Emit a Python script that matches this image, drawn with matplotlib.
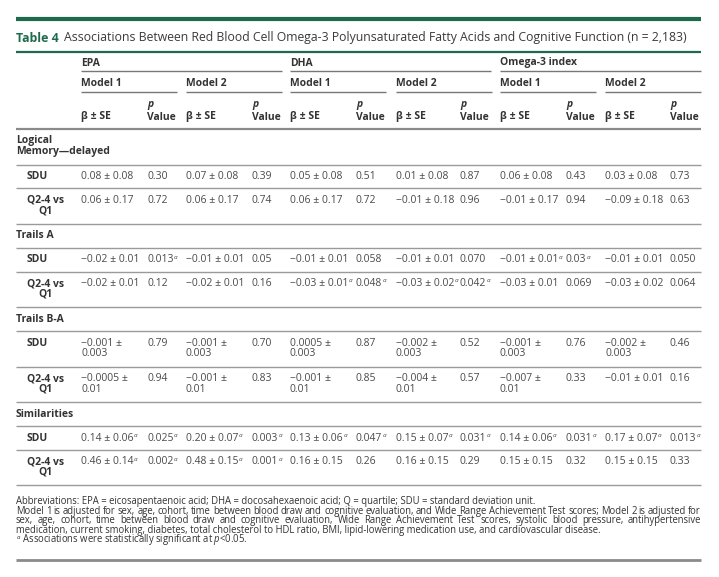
import matplotlib
matplotlib.use('Agg')
import matplotlib.pyplot as plt

plt.rcParams['font.family'] = ['Open Sans', 'DejaVu Sans']
plt.rcParams['mathtext.fontset'] = 'custom'
plt.rcParams['mathtext.rm'] = 'Open Sans'
plt.rcParams['mathtext.it'] = 'Open Sans:italic'
plt.rcParams['mathtext.bf'] = 'Open Sans:bold'

# ---------------------------------------------------------------- data
title_num = 'Table 4'
title_text = ('Associations Between Red Blood Cell Omega-3 Polyunsaturated '
              'Fatty Acids and Cognitive Function (n = 2,183)')
groups = ['EPA', 'DHA', 'Omega-3 index']
models = ['Model 1', 'Model 2']
sections = ['Logical\nMemory\u2014delayed', 'Trails A', 'Trails B-A', 'Similarities']
row_labels = ['SDU', 'Q2-4 vs\nQ1']

# one list per column, 8 rows each (SDU, Q2-4 for each section); * = significant
epa_m1_beta = ['0.08 ± 0.08', '0.06 ± 0.17', '−0.02 ± 0.01', '−0.02 ± 0.01',
               '−0.001 ±\n0.003', '−0.0005 ±\n0.01', '0.14 ± 0.06*', '0.46 ± 0.14*']
epa_m1_p = ['0.30', '0.72', '0.013*', '0.12', '0.79', '0.94', '0.025*', '0.002*']
epa_m2_beta = ['0.07 ± 0.08', '0.06 ± 0.17', '−0.01 ± 0.01', '−0.02 ± 0.01',
               '−0.001 ±\n0.003', '−0.001 ±\n0.01', '0.20 ± 0.07*', '0.48 ± 0.15*']
epa_m2_p = ['0.39', '0.74', '0.05', '0.16', '0.70', '0.83', '0.003*', '0.001*']
dha_m1_beta = ['0.05 ± 0.08', '0.06 ± 0.17', '−0.01 ± 0.01', '−0.03 ± 0.01*',
               '0.0005 ±\n0.003', '−0.001 ±\n0.01', '0.13 ± 0.06*', '0.16 ± 0.15']
dha_m1_p = ['0.51', '0.72', '0.058', '0.048*', '0.87', '0.85', '0.047*', '0.26']
dha_m2_beta = ['0.01 ± 0.08', '−0.01 ± 0.18', '−0.01 ± 0.01', '−0.03 ± 0.02*',
               '−0.002 ±\n0.003', '−0.004 ±\n0.01', '0.15 ± 0.07*', '0.16 ± 0.15']
dha_m2_p = ['0.87', '0.96', '0.070', '0.042*', '0.52', '0.57', '0.031*', '0.29']
o3_m1_beta = ['0.06 ± 0.08', '−0.01 ± 0.17', '−0.01 ± 0.01*', '−0.03 ± 0.01',
              '−0.001 ±\n0.003', '−0.007 ±\n0.01', '0.14 ± 0.06*', '0.15 ± 0.15']
o3_m1_p = ['0.43', '0.94', '0.03*', '0.069', '0.76', '0.33', '0.031*', '0.32']
o3_m2_beta = ['0.03 ± 0.08', '−0.09 ± 0.18', '−0.01 ± 0.01', '−0.03 ± 0.02',
              '−0.002 ±\n0.003', '−0.01 ± 0.01', '0.17 ± 0.07*', '0.15 ± 0.15']
o3_m2_p = ['0.73', '0.63', '0.050', '0.064', '0.46', '0.16', '0.013*', '0.33']

columns = [epa_m1_beta, epa_m1_p, epa_m2_beta, epa_m2_p,
           dha_m1_beta, dha_m1_p, dha_m2_beta, dha_m2_p,
           o3_m1_beta, o3_m1_p, o3_m2_beta, o3_m2_p]

notes = [
    'Abbreviations: EPA = eicosapentaenoic acid; DHA = docosahexaenoic acid; '
    'Q = quartile; SDU = standard deviation unit.',
    'Model 1 is adjusted for sex, age, cohort, time between blood draw and cognitive '
    'evaluation, and Wide Range Achievement Test scores; Model 2 is adjusted for',
    'sex, age, cohort, time between blood draw and cognitive evaluation, Wide Range '
    'Achievement Test scores, systolic blood pressure, antihypertensive',
    'medication, current smoking, diabetes, total cholesterol to HDL ratio, BMI, '
    'lipid-lowering medication use, and cardiovascular disease.',
    '* Associations were statistically significant at $\\mathit{p}$<0.05.',
]

# ---------------------------------------------------------------- layout
W, H = 719, 577
fig = plt.figure(figsize=(W / 100, H / 100), dpi=100)
ax = fig.add_axes([0, 0, 1, 1])
ax.set_xlim(0, W)
ax.set_ylim(H, 0)
ax.axis('off')
renderer = fig.canvas.get_renderer()

GREEN = '#1d6b4c'
TXT = '#4a4a4a'
HDR = '#333333'
RULE = '#9a9a9a'
L, R = 16, 701
FS = 7.45
beta_x = [81, 186, 290, 396, 500, 605]
p_x = [147, 252, 356, 460, 566, 670]
col_x = [v for pair in zip(beta_x, p_x) for v in pair]


def hline(y, x0=L, x1=R, lw=1.0, color=RULE):
    ax.plot([x0, x1], [y, y], color=color, lw=lw, solid_capstyle='butt')


def width(t):
    return t.get_window_extent(renderer).width


def cell_text(x, y, s, size, color, **kw):
    """Draw text; a '*' becomes a small raised italic 'a'."""
    parts = s.split('*')
    for i, part in enumerate(parts):
        if part:
            t = ax.text(x, y, part, fontsize=size, color=color, va='baseline', **kw)
            x += width(t)
        if i < len(parts) - 1:
            t = ax.text(x + 0.6, y - size * 0.5, 'a', fontsize=size * 0.62,
                        style='italic', color=color, va='baseline')
            x += width(t) + 0.6


def justified(y, line, size, color):
    words = line.split(' ')
    avail = R - L
    min_gap = 1.6
    while True:
        ts = [ax.text(0, y, wd, fontsize=size, color=color, va='baseline')
              for wd in words]
        ws = [width(tt) for tt in ts]
        need = sum(ws) + min_gap * (len(words) - 1)
        if need <= avail + 0.5:
            break
        for tt in ts:
            tt.remove()
        size *= avail / need
    gap = (avail - sum(ws)) / (len(words) - 1)
    x = L
    for tt, ww in zip(ts, ws):
        tt.set_x(x)
        x += ww + gap


# title block
hline(18.5, lw=3.0, color=GREEN)
t = ax.text(L, 41.5, title_num, fontsize=8.9, fontweight='bold', color=GREEN, va='baseline')
ax.text(L + width(t) + 5, 41.5, title_text, fontsize=8.85, color='#3a3a3a', va='baseline')
hline(52, lw=1.6, color=GREEN)

# header
for g, gx in enumerate(beta_x[::2]):
    ax.text(gx, 65.5, groups[g], fontsize=FS, fontweight='bold', color=HDR, va='baseline')
    hline(71, gx, gx + 201, lw=1.0, color='#777777')
for m, mx in enumerate(beta_x):
    ax.text(mx, 86.5, models[m % 2], fontsize=FS, fontweight='bold', color=HDR, va='baseline')
    hline(92, mx, mx + 96, lw=1.0, color='#777777')
    ax.text(mx, 119.5, 'β ± SE', fontsize=FS, fontweight='bold', color=HDR, va='baseline')
    ax.text(p_x[m], 107.5, 'p', fontsize=FS, fontweight='bold', style='italic',
            color=HDR, va='baseline')
    ax.text(p_x[m], 119.5, 'Value', fontsize=FS, fontweight='bold', color=HDR, va='baseline')
hline(129, lw=1.6, color='#8a8a8a')

# body
H1, H2, STEP = 23.8, 35.6, 10.5
y = 129
r = 0
for s, sec in enumerate(sections):
    lines = sec.split('\n')
    for k, ln in enumerate(lines):
        ax.text(L, y + 14.5 + k * STEP, ln, fontsize=FS, fontweight='bold',
                color=HDR, va='baseline')
    y += H2 if len(lines) > 1 else H1
    hline(y)
    for lab in row_labels:
        cells = [col[r] for col in columns]
        nl = max([len(c.split('\n')) for c in cells] + [len(lab.split('\n'))])
        lab_lines = lab.split('\n')
        t0 = ax.text(27, y + 14.5, lab_lines[0], fontsize=FS, fontweight='bold',
                     color=HDR, va='baseline')
        if len(lab_lines) > 1:
            ax.text(27 + width(t0) / 2, y + 14.5 + STEP, lab_lines[1], fontsize=FS,
                    fontweight='bold', color=HDR, va='baseline', ha='center')
        for c, cx in zip(cells, col_x):
            for k, ln in enumerate(c.split('\n')):
                cell_text(cx, y + 14.5 + k * STEP, ln, FS, TXT)
        y += H2 if nl > 1 else H1
        hline(y)
        r += 1

# footnotes
FN = 6.85
fy = [504, 513.6, 523.2, 532.8, 542.4]
for i, note in enumerate(notes):
    if i in (1, 2):
        justified(fy[i], note, FN, '#333333')
    else:
        cell_text(L, fy[i], note, FN, '#333333')
hline(560, lw=2.0, color='#8a8a8a')

fig.savefig('out.png', dpi=100, facecolor='white')
